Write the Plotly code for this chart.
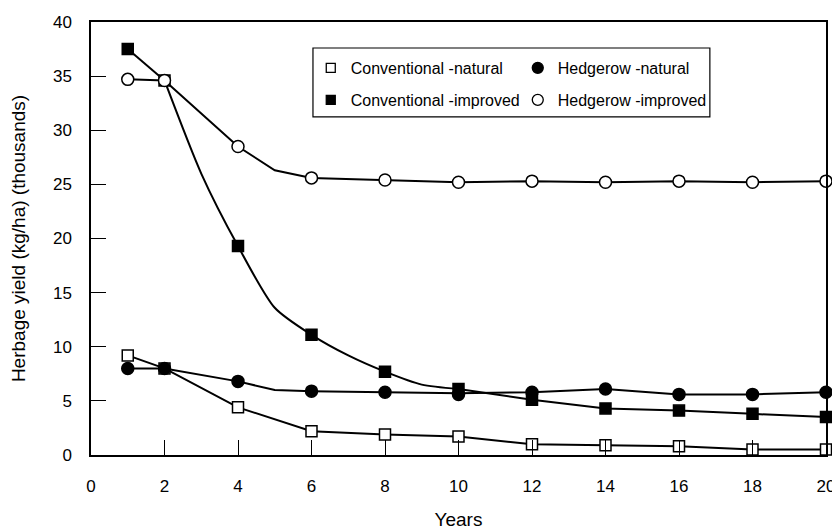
import plotly.graph_objects as go

# Marked data points (years with symbols)
years_marked = [1, 2, 4, 6, 8, 10, 12, 14, 16, 18, 20]
conv_natural = [9.2, 8.0, 4.4, 2.2, 1.9, 1.7, 1.0, 0.9, 0.8, 0.5, 0.5]
hedge_natural = [8.0, 8.0, 6.8, 5.9, 5.8, 5.6, 5.8, 6.1, 5.6, 5.6, 5.8]
conv_improved = [37.5, 34.6, 19.3, 11.1, 7.7, 6.1, 5.1, 4.3, 4.1, 3.8, 3.5]
hedge_improved = [34.7, 34.6, 28.5, 25.6, 25.4, 25.2, 25.3, 25.2, 25.3, 25.2, 25.3]

# Line vertices (including unmarked bends)
cn_line_x = [1, 2, 4, 6, 8, 10, 12, 14, 16, 18, 20]
cn_line_y = [9.2, 8.0, 4.4, 2.2, 1.9, 1.7, 1.0, 0.9, 0.8, 0.5, 0.5]
hn_line_x = [1, 2, 4, 5, 6, 8, 10, 12, 14, 16, 18, 20]
hn_line_y = [8.0, 8.0, 6.8, 6.0, 5.9, 5.8, 5.7, 5.8, 6.1, 5.6, 5.6, 5.8]
ci_head_x = [1, 2]
ci_head_y = [37.5, 34.6]
ci_curve_x = [2, 3, 4, 5, 6, 7, 8, 9, 10]
ci_curve_y = [34.6, 26.0, 19.3, 13.6, 11.1, 9.2, 7.7, 6.5, 6.1]
ci_tail_x = [10, 12, 14, 16, 18, 20]
ci_tail_y = [6.1, 5.1, 4.3, 4.1, 3.8, 3.5]
hi_line_x = [1, 2, 4, 5, 6, 8, 10, 12, 14, 16, 18, 20]
hi_line_y = [34.7, 34.6, 28.5, 26.3, 25.6, 25.4, 25.2, 25.3, 25.2, 25.3, 25.2, 25.3]

x_ticks = [0, 2, 4, 6, 8, 10, 12, 14, 16, 18, 20]
y_ticks = [0, 5, 10, 15, 20, 25, 30, 35, 40]

FONT = "Liberation Sans, Arial, Helvetica, sans-serif"
fig = go.Figure()

line_sets = [
    (cn_line_x, cn_line_y, "linear"),
    (hn_line_x, hn_line_y, "linear"),
    (ci_head_x, ci_head_y, "linear"),
    (ci_curve_x, ci_curve_y, "spline"),
    (ci_tail_x, ci_tail_y, "linear"),
    (hi_line_x, hi_line_y, "linear"),
]
for lx, ly, shape in line_sets:
    fig.add_trace(go.Scatter(x=lx, y=ly, mode="lines", showlegend=False,
                             line=dict(color="black", width=2, shape=shape, smoothing=0.7),
                             hoverinfo="skip"))

series = [
    ("Conventional -natural", conv_natural, "square", "white", "legend"),
    ("Hedgerow -natural", hedge_natural, "circle", "black", "legend"),
    ("Conventional -improved", conv_improved, "square", "black", "legend2"),
    ("Hedgerow -improved", hedge_improved, "circle", "white", "legend2"),
]
for name, vals, sym, fill, lg in series:
    fig.add_trace(go.Scatter(
        x=years_marked, y=vals, mode="markers", name=name, showlegend=False,
        marker=dict(symbol=sym, size=11 if sym == "square" else 12, color=fill,
                    line=dict(color="black", width=1.5)),
        cliponaxis=False,
    ))
    # legend entry with the smaller symbols of the original key
    fig.add_trace(go.Scatter(
        x=[None], y=[None], mode="markers", name=name, legend=lg,
        marker=dict(symbol=sym, size=9 if sym == "square" else 11, color=fill,
                    line=dict(color="black", width=1.3)),
    ))

legend_common = dict(orientation="h", xanchor="left", yanchor="middle",
                     bgcolor="rgba(0,0,0,0)", borderwidth=0,
                     font=dict(family=FONT, size=16, color="black"),
                     entrywidth=162, itemwidth=30, tracegroupgap=0)

# the page body adds an 8px offset; figure is sized to fill the rest of the window
fig.update_layout(
    width=832, height=522,
    margin=dict(l=83, r=14, t=14, b=75),
    paper_bgcolor="white", plot_bgcolor="white",
    font=dict(family=FONT, size=17, color="black"),
    xaxis=dict(range=[0, 20], tickvals=x_ticks, ticktext=[str(v) for v in x_ticks],
               ticks="inside", ticklen=15, tickwidth=1, tickcolor="black",
               showline=True, linecolor="black", linewidth=1.5, mirror=True,
               showgrid=False, zeroline=False, ticklabelstandoff=15, automargin=False,
               title=dict(text="Years", font=dict(size=19), standoff=20)),
    yaxis=dict(range=[0, 40], tickvals=y_ticks, ticktext=[str(v) for v in y_ticks],
               ticks="inside", ticklen=15, tickwidth=1, tickcolor="black",
               showline=True, linecolor="black", linewidth=1.5, mirror=True,
               showgrid=False, zeroline=False, ticklabelstandoff=14, automargin=False,
               title=dict(text="Herbage yield (kg/ha) (thousands)", font=dict(size=19), standoff=22)),
    legend=dict(x=0.299, y=0.894, **legend_common),
    legend2=dict(x=0.299, y=0.820, **legend_common),
    shapes=[dict(type="rect", xref="paper", yref="paper", x0=0.302, x1=0.842,
                 y0=0.781, y1=0.940, line=dict(color="black", width=1.2),
                 fillcolor="rgba(0,0,0,0)")],
)

fig.write_html("out.html")
